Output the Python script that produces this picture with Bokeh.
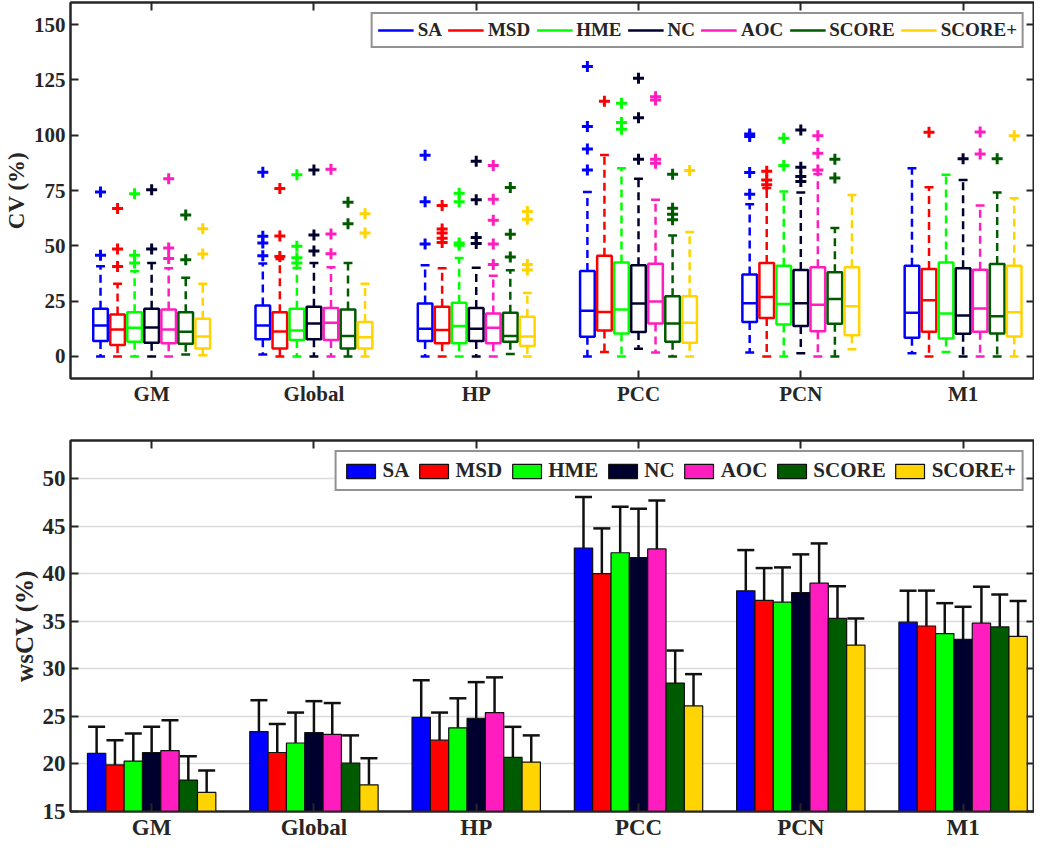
from bokeh.plotting import figure
from bokeh.layouts import column
from bokeh.models import (ColumnDataSource, Range1d, FixedTicker, LinearAxis,
                          Legend, LegendItem, Whisker, TeeHead)
from bokeh.embed import file_html
from bokeh.resources import INLINE

# ---------------- data ----------------
regions = ["GM", "Global", "HP", "PCC", "PCN", "M1"]
methods = ["SA", "MSD", "HME", "NC", "AOC", "SCORE", "SCORE+"]
colors = ["#0000FF", "#FF0000", "#00FF00", "#00002E", "#FF1DBF", "#005A00", "#FFD400"]

# box plot statistics: rows = regions, columns = methods
lower_whisker = [
    [0, 0, 0, 0, 0, 0.9, 0.5],
    [0.9, 0, 0, 0, 0, 0, 0],
    [0, 0, 0, 0, 0, 1.1, 0],
    [0, 2.0, 0, 3.5, 1.7, 0, 0],
    [1.7, 0, 0, 1.4, 0, 0, 3.2],
    [1.4, 0, 2.0, 0, 0, 0, 0],
]
q1 = [
    [6.9, 5.1, 6.6, 6.2, 5.9, 5.7, 3.6],
    [7.7, 3.6, 7.4, 7.7, 7.4, 3.6, 3.6],
    [6.9, 5.9, 5.9, 6.9, 5.9, 6.6, 4.7],
    [8.9, 11.7, 10.4, 11.0, 14.9, 6.6, 6.2],
    [15.5, 17.4, 14.4, 13.7, 11.4, 14.7, 9.6],
    [8.4, 11.1, 8.1, 10.2, 11.1, 10.4, 9.0],
]
median = [
    [14.0, 12.2, 12.9, 13.1, 12.2, 11.1, 9.0],
    [14.0, 11.3, 11.7, 14.9, 15.2, 9.2, 8.6],
    [12.5, 11.9, 13.7, 12.5, 12.9, 9.2, 9.0],
    [20.6, 20.1, 21.2, 23.9, 24.8, 14.9, 15.2],
    [24.0, 26.9, 23.7, 24.0, 23.3, 26.0, 22.7],
    [19.7, 25.4, 19.4, 18.5, 21.6, 18.2, 20.0],
]
q3 = [
    [21.5, 18.9, 20.0, 21.5, 21.2, 20.0, 17.0],
    [23.0, 20.0, 21.5, 22.4, 21.9, 21.2, 15.5],
    [23.9, 22.4, 24.2, 21.9, 19.4, 19.7, 17.9],
    [38.6, 45.5, 42.5, 41.2, 41.9, 27.2, 27.2],
    [37.0, 42.2, 41.0, 39.1, 40.3, 38.0, 40.3],
    [41.0, 39.5, 42.5, 39.8, 39.2, 41.8, 41.0],
]
upper_whisker = [
    [40.7, 32.8, 38.5, 42.2, 39.8, 35.5, 32.8],
    [42.0, 44.0, 40.0, 42.2, 40.3, 42.2, 32.8],
    [41.2, 39.8, 44.5, 40.1, 36.5, 38.9, 28.7],
    [74.3, 91.1, 85.1, 80.3, 70.8, 54.7, 56.2],
    [68.8, 76.1, 74.6, 74.1, 82.5, 58.0, 73.0],
    [85.1, 76.5, 82.1, 79.8, 68.2, 74.1, 71.5],
]
outliers = [
    [[45.7, 74.3], [40.6, 48.5, 66.9], [42.2, 45.7, 73.5], [48.5, 75.3],
     [44.3, 49.0, 80.3], [43.7, 63.9], [46.3, 57.7]],
    [[45.5, 51.3, 54.3, 83.3], [45.2, 54.4, 75.9], [42.2, 44.6, 49.8, 82.1],
     [47.6, 54.9, 84.3], [46.4, 55.3, 84.6], [60.0, 69.7], [55.8, 64.5]],
    [[50.8, 69.9, 90.9], [51.5, 53.4, 55.8, 57.6, 68.2], [50.3, 51.3, 69.9, 73.8],
     [51.0, 53.7, 70.8, 88.2], [41.5, 50.8, 61.5, 71.1, 86.3], [44.9, 55.2, 76.4],
     [39.0, 41.5, 62.0, 65.5]],
    [[84.3, 93.8, 103.9, 131.1], [115.4], [102.7, 105.8, 114.4], [89.1, 107.9, 125.7],
     [87.3, 89.1, 115.9, 117.4], [61.8, 64.3, 67.0, 82.4], [84.0]],
    [[73.3, 83.1, 99.4, 100.6], [77.6, 79.8, 83.7], [86.3, 98.6], [79.1, 81.3, 85.5, 102.4],
     [84.3, 91.8, 99.8], [80.6, 89.1], []],
    [[], [101.3], [], [89.3], [91.5, 101.5], [89.3], [99.8]],
]

# wsCV means and standard deviations: rows = regions, columns = methods
wscv_mean = [
    [21.1, 19.9, 20.3, 21.2, 21.4, 18.3, 17.0],
    [23.4, 21.2, 22.2, 23.3, 23.1, 20.1, 17.8],
    [24.9, 22.5, 23.8, 24.8, 25.4, 20.7, 20.2],
    [42.7, 40.0, 42.2, 41.7, 42.6, 28.5, 26.1],
    [38.2, 37.2, 37.0, 38.0, 39.0, 35.3, 32.5],
    [34.9, 34.5, 33.7, 33.1, 34.8, 34.4, 33.4],
]
wscv_sd = [
    [2.8, 2.6, 2.9, 2.7, 3.2, 2.5, 2.3],
    [3.3, 3.0, 3.2, 3.3, 3.3, 2.9, 2.8],
    [3.9, 2.9, 3.1, 3.8, 3.7, 3.2, 2.8],
    [5.35, 4.76, 4.83, 5.13, 5.1, 3.42, 3.34],
    [4.28, 3.39, 3.66, 4.03, 4.18, 3.38, 2.79],
    [3.31, 3.72, 3.2, 3.42, 3.83, 3.41, 3.73],
]

cv_ticks = [0, 25, 50, 75, 100, 125, 150]
wscv_ticks = [15, 20, 25, 30, 35, 40, 45, 50]

# ---------------- styling ----------------
FONT = "Liberation Serif"
AX = "#262626"
W = 1034
box_step = 0.105
box_w = 0.09
cap_w = 0.055
bar_w = 0.113
xpos = [i + 1 for i in range(len(regions))]
labels = {i + 1: r for i, r in enumerate(regions)}


def style_axes(p, yticks, ylabel, tick_fs, label_fs):
    bottom = p.below[0]
    left = p.left[0]
    bottom.ticker = FixedTicker(ticks=xpos)
    bottom.major_label_overrides = labels
    left.ticker = FixedTicker(ticks=yticks)
    left.axis_label = ylabel
    top = LinearAxis(ticker=FixedTicker(ticks=xpos))
    right = LinearAxis(ticker=FixedTicker(ticks=yticks))
    p.add_layout(top, "above")
    p.add_layout(right, "right")
    for ax in (bottom, left, top, right):
        ax.axis_line_color = AX
        ax.axis_line_width = 2
        ax.major_tick_line_color = AX
        ax.major_tick_line_width = 2
        ax.major_tick_in = 8
        ax.major_tick_out = 0
        ax.minor_tick_line_color = None
        ax.major_label_text_font = FONT
        ax.major_label_text_font_style = "bold"
        ax.axis_label_text_font = FONT
        ax.axis_label_text_font_style = "bold"
        ax.axis_label_text_color = AX
    for ax in (bottom, left):
        ax.major_label_text_color = AX
        ax.major_label_text_font_size = tick_fs
    for ax in (top, right):
        ax.major_label_text_color = None
        ax.major_label_text_alpha = 0
        ax.major_label_text_font_size = "0px"
        ax.major_label_standoff = 0
    bottom.major_label_standoff = 3
    left.major_label_standoff = 5
    left.axis_label_standoff = 2
    left.axis_label_text_font_size = label_fs
    p.outline_line_color = AX
    p.outline_line_width = 2


def style_legend(lg, glyph_h, fs, pad):
    lg.orientation = "horizontal"
    lg.location = "top_right"
    lg.label_text_font = FONT
    lg.label_text_font_style = "bold"
    lg.label_text_font_size = fs
    lg.label_text_color = AX
    lg.border_line_color = AX
    lg.border_line_width = 2
    lg.glyph_width = 36
    lg.glyph_height = glyph_h
    lg.label_standoff = 4
    lg.spacing = 6
    lg.padding = pad
    lg.margin = 10
    lg.background_fill_alpha = 1


# ---------------- top: box plots ----------------
p1 = figure(width=W, height=408, output_backend="svg", toolbar_location=None,
            x_range=Range1d(0.5, 6.44), y_range=Range1d(-10, 160),
            min_border_left=62, min_border_right=0, min_border_top=2, min_border_bottom=30)
p1.xgrid.visible = False
p1.ygrid.visible = False
style_axes(p1, cv_ticks, "CV (%)", "21px", "23px")

items1 = []
for j, m in enumerate(methods):
    xs = [x + (j - 3) * box_step for x in xpos]
    src = ColumnDataSource(dict(
        x=xs,
        lw=[lower_whisker[i][j] for i in range(len(regions))],
        q1=[q1[i][j] for i in range(len(regions))],
        med=[median[i][j] for i in range(len(regions))],
        q3=[q3[i][j] for i in range(len(regions))],
        uw=[upper_whisker[i][j] for i in range(len(regions))],
        x0=[x - box_w / 2 for x in xs], x1=[x + box_w / 2 for x in xs],
        c0=[x - cap_w / 2 for x in xs], c1=[x + cap_w / 2 for x in xs],
    ))
    c = colors[j]
    p1.segment(x0="x", y0="q3", x1="x", y1="uw", source=src, line_color=c,
               line_width=2.5, line_dash="8 5")
    p1.segment(x0="x", y0="q1", x1="x", y1="lw", source=src, line_color=c,
               line_width=2.5, line_dash="8 5")
    p1.segment(x0="c0", y0="uw", x1="c1", y1="uw", source=src, line_color=c, line_width=2.5)
    p1.segment(x0="c0", y0="lw", x1="c1", y1="lw", source=src, line_color=c, line_width=2.5)
    p1.vbar(x="x", bottom="q1", top="q3", width=box_w, source=src, fill_color=None,
            line_color=c, line_width=2.5)
    med_r = p1.segment(x0="x0", y0="med", x1="x1", y1="med", source=src, line_color=c,
                       line_width=2.5)
    ox, oy = [], []
    for i in range(len(regions)):
        for v in outliers[i][j]:
            ox.append(xs[i])
            oy.append(v)
    p1.scatter(x=ox, y=oy, marker="cross", size=11, line_color=c, line_width=3)
    items1.append(LegendItem(label=m, renderers=[med_r]))

lg1 = Legend(items=items1)
style_legend(lg1, 18, "19px", 5)
p1.add_layout(lg1, "center")

# ---------------- bottom: bar chart ----------------
p2 = figure(width=W, height=434, output_backend="svg", toolbar_location=None,
            x_range=Range1d(0.5, 6.44), y_range=Range1d(15, 54),
            min_border_left=62, min_border_right=0, min_border_top=32, min_border_bottom=28)
p2.xgrid.visible = False
p2.ygrid.ticker = FixedTicker(ticks=wscv_ticks)
p2.ygrid.grid_line_color = "#DCDCDC"
p2.ygrid.grid_line_width = 1.5
style_axes(p2, wscv_ticks, "wsCV (%)", "23px", "25px")

items2 = []
for j, m in enumerate(methods):
    xs = [x + (j - 3) * bar_w for x in xpos]
    means = [wscv_mean[i][j] for i in range(len(regions))]
    sds = [wscv_sd[i][j] for i in range(len(regions))]
    src = ColumnDataSource(dict(x=xs, top=means, upper=[a + b for a, b in zip(means, sds)]))
    r = p2.vbar(x="x", top="top", bottom=0, width=bar_w, source=src,
                fill_color=colors[j], line_color="#111111", line_width=1.2)
    p2.add_layout(Whisker(base="x", lower="top", upper="upper", source=src,
                          line_color="#111111", line_width=2.5,
                          upper_head=TeeHead(size=17, line_color="#111111", line_width=2.5),
                          lower_head=None))
    items2.append(LegendItem(label=m, renderers=[r]))

lg2 = Legend(items=items2)
style_legend(lg2, 18, "21px", 6)
p2.add_layout(lg2, "center")

layout = column(p1, p2, spacing=0)
open("out.html", "w").write(file_html(layout, INLINE))
